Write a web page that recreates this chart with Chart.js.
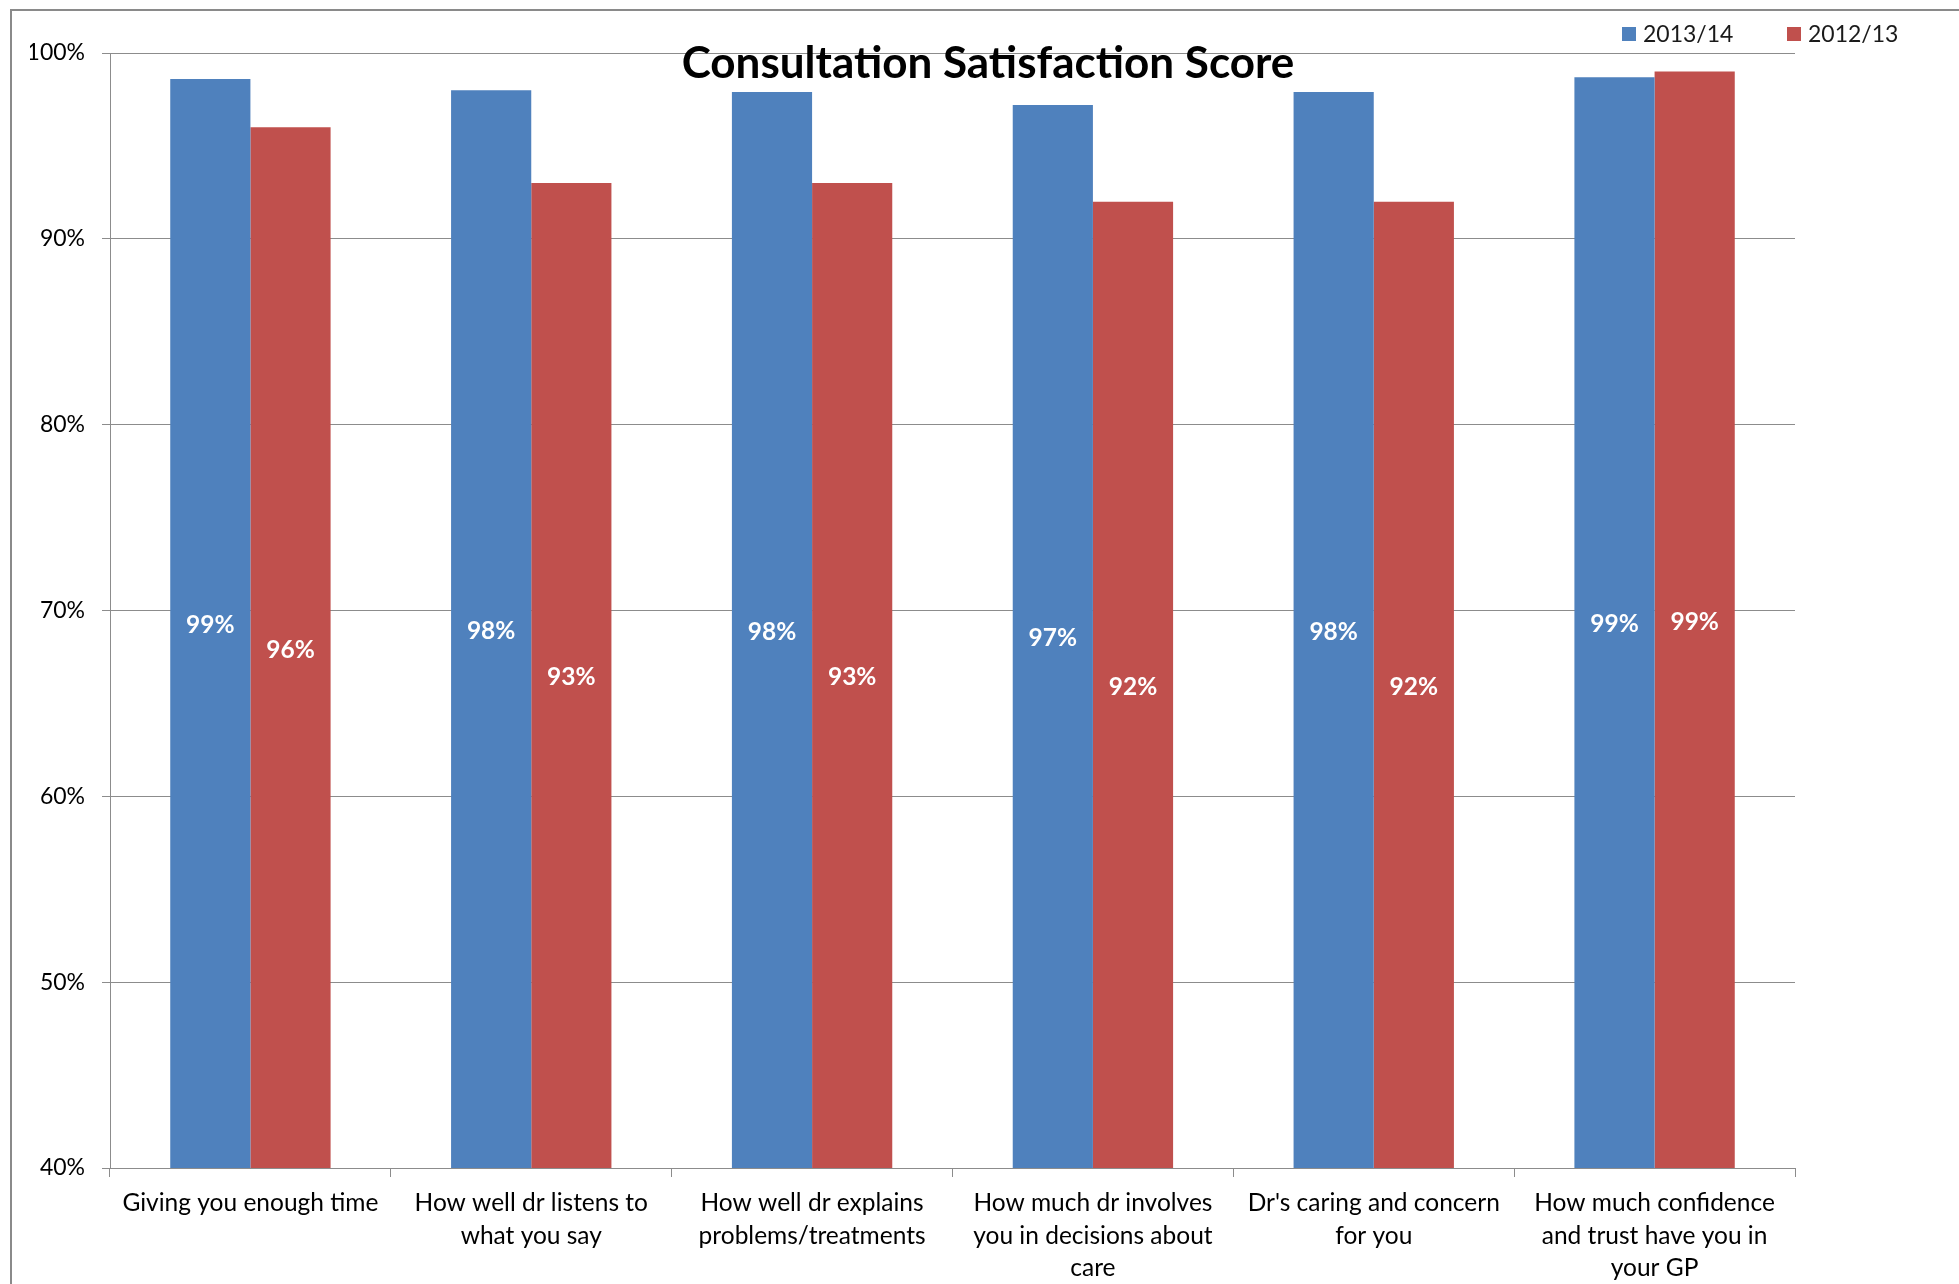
<!DOCTYPE html>
<html lang="en">
<head>
  <meta charset="UTF-8" />
  <title>Consultation Satisfaction Score</title>
  <script src="https://cdn.jsdelivr.net/npm/chart.js"></script>
  <style>
    html, body { margin: 0; padding: 0; background: #fff; }
    body { width: 1959px; height: 1284px; position: relative; overflow: hidden; font-family: Lato, sans-serif; }
    #frame { position: absolute; left: 10px; top: 9px; width: 2100px; height: 1400px;
             border-left: 2px solid #8a8a8a; border-top: 2px solid #8a8a8a; }
    #chart { position: absolute; left: 0; top: 0; }
    #title { position: absolute; left: 988px; top: 39px; transform: translateX(-50%);
             font-size: 44px; line-height: 44px; font-weight: bold; color: #000; white-space: nowrap; }
    #legend { position: absolute; left: 1622px; top: 22px; display: flex; }
    .legend-item { display: flex; align-items: center; width: 165px; font-size: 23px; line-height: 23px; color: #1a1a1a; }
    .legend-box { width: 14px; height: 14px; margin-right: 7px; }
  </style>
</head>
<body>

  <div id="frame"></div>
  <canvas id="chart" width="1959" height="1284"></canvas>
  <div id="title">Consultation Satisfaction Score</div>
  <div id="legend"></div>

  <script>
    // Data
    const categories = [
      'Giving you enough time',
      ['How well dr listens to', 'what you say'],
      ['How well dr explains', 'problems/treatments'],
      ['How much dr involves', 'you in decisions about', 'care'],
      ["Dr's caring and concern", 'for you'],
      ['How much confidence', 'and trust have you in', 'your GP']
    ];
    const seriesNames = ['2013/14', '2012/13'];
    const scores201314 = [98.6, 98.0, 97.9, 97.2, 97.9, 98.7];
    const scores201213 = [96.0, 93.0, 93.0, 92.0, 92.0, 99.0];
    const yTicks = [40, 50, 60, 70, 80, 90, 100];

    const blue = '#4f81bd';
    const red = '#c0504d';
    const gridColor = '#8c8c8c';

    Chart.defaults.font.family = 'Lato, sans-serif';
    Chart.defaults.color = '#000';

    // white % labels in the middle of the visible part of each bar
    const barLabels = {
      id: 'barLabels',
      afterDatasetsDraw(chart) {
        const ctx = chart.ctx;
        const bottom = chart.chartArea.bottom;
        ctx.save();
        ctx.fillStyle = '#fff';
        ctx.font = 'bold 24.5px Lato, sans-serif';
        ctx.textAlign = 'center';
        ctx.textBaseline = 'middle';
        chart.data.datasets.forEach((ds, i) => {
          chart.getDatasetMeta(i).data.forEach((bar, j) => {
            const p = bar.getProps(['x', 'y', 'base'], true);
            const base = Math.min(p.base, bottom);
            ctx.fillText(Math.round(ds.data[j]) + '%', p.x, (p.y + base) / 2 + 2);
          });
        });
        ctx.restore();
      }
    };

    const chart = new Chart(document.getElementById('chart'), {
      type: 'bar',
      data: {
        labels: categories,
        datasets: [
          { label: seriesNames[0], data: scores201314, backgroundColor: blue },
          { label: seriesNames[1], data: scores201213, backgroundColor: red }
        ]
      },
      options: {
        responsive: false,
        animation: false,
        devicePixelRatio: 1,
        layout: { padding: { left: 30, right: 164, top: 53, bottom: 0 } },
        datasets: { bar: { categoryPercentage: 0.571, barPercentage: 1.0 } },
        plugins: {
          legend: { display: false },
          title: { display: false },
          tooltip: { enabled: false }
        },
        scales: {
          x: {
            grid: { drawOnChartArea: false, drawTicks: true, tickLength: 9, color: gridColor },
            border: { color: gridColor },
            ticks: { font: { size: 24.5, lineHeight: '32.5px' }, padding: 10, maxRotation: 0, autoSkip: false, color: '#000' },
            afterFit(scale) { scale.height = 116; }
          },
          y: {
            min: yTicks[0],
            max: yTicks[yTicks.length - 1],
            afterBuildTicks(scale) { scale.ticks = yTicks.map(v => ({ value: v })); },
            grid: { color: gridColor, tickLength: 8 },
            border: { color: gridColor },
            ticks: { font: { size: 23 }, padding: 17, color: '#000', callback: v => v + '%' },
            afterFit(scale) { scale.width = 80; }
          }
        }
      },
      plugins: [barLabels]
    });

    // legend built from the datasets
    const legend = document.getElementById('legend');
    chart.data.datasets.forEach(ds => {
      const item = document.createElement('div');
      item.className = 'legend-item';
      item.innerHTML = '<span class="legend-box" style="background:' + ds.backgroundColor + '"></span>' + ds.label;
      legend.appendChild(item);
    });
  </script>

</body>
</html>
